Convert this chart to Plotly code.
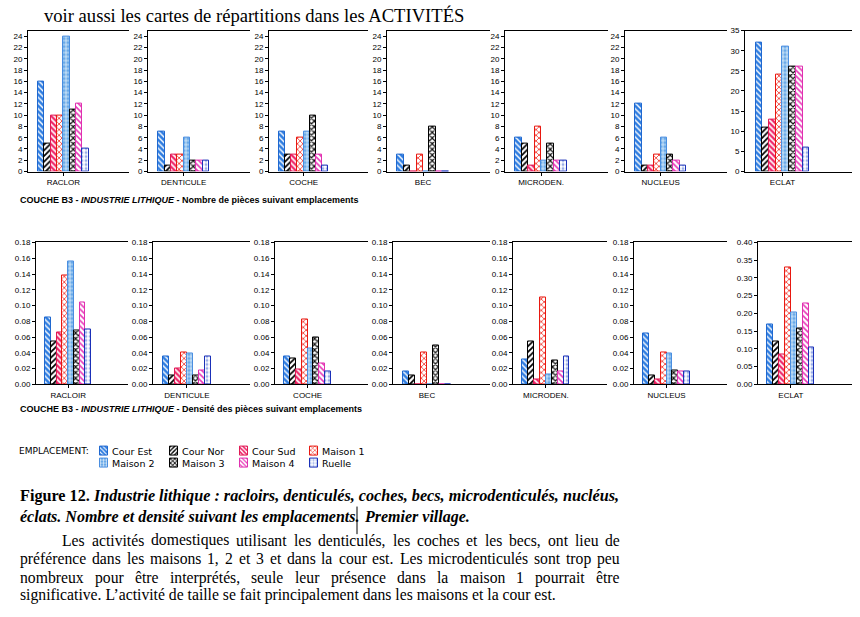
import plotly.graph_objects as go

# ---------------- data ----------------
categories_top = ["RACLOR", "DENTICULE", "COCHE", "BEC", "MICRODEN.", "NUCLEUS", "ECLAT"]
categories_bottom = ["RACLOIR", "DENTICULE", "COCHE", "BEC", "MICRODEN.", "NUCLEUS", "ECLAT"]
locations = ["Cour Est", "Cour Nor", "Cour Sud", "Maison 1", "Maison 2", "Maison 3", "Maison 4", "Ruelle"]

# number of pieces (top row), per location, in category order
count_cour_est = [16, 7, 7, 3, 6, 12, 32]
count_cour_nor = [5, 1, 3, 1, 5, 1, 11]
count_cour_sud = [10, 3, 3, 0, 1, 1, 13]
count_maison_1 = [10, 3, 6, 3, 8, 3, 24]
count_maison_2 = [24, 6, 7, 0, 2, 6, 31]
count_maison_3 = [11, 2, 10, 8, 5, 3, 26]
count_maison_4 = [12, 2, 3, 0, 2, 2, 26]
count_ruelle = [4, 2, 1, 0, 2, 1, 6]

# density of pieces (bottom row)
dens_cour_est = [0.085, 0.036, 0.036, 0.016, 0.032, 0.064, 0.170]
dens_cour_nor = [0.055, 0.011, 0.033, 0.011, 0.055, 0.011, 0.121]
dens_cour_sud = [0.066, 0.020, 0.019, 0.0, 0.006, 0.006, 0.085]
dens_maison_1 = [0.138, 0.041, 0.082, 0.041, 0.110, 0.041, 0.330]
dens_maison_2 = [0.156, 0.039, 0.045, 0.0, 0.013, 0.039, 0.202]
dens_maison_3 = [0.068, 0.011, 0.060, 0.049, 0.030, 0.018, 0.157]
dens_maison_4 = [0.104, 0.018, 0.026, 0.0, 0.017, 0.017, 0.227]
dens_ruelle = [0.070, 0.035, 0.017, 0.0, 0.035, 0.017, 0.103]

top_ticks = [0, 2, 4, 6, 8, 10, 12, 14, 16, 18, 20, 22, 24]
top_ticks_eclat = [0, 5, 10, 15, 20, 25, 30, 35]
bot_ticks = [0, 0.02, 0.04, 0.06, 0.08, 0.10, 0.12, 0.14, 0.16, 0.18]
bot_ticks_eclat = [0, 0.05, 0.10, 0.15, 0.20, 0.25, 0.30, 0.35, 0.40]

counts = [count_cour_est, count_cour_nor, count_cour_sud, count_maison_1,
          count_maison_2, count_maison_3, count_maison_4, count_ruelle]
densities = [dens_cour_est, dens_cour_nor, dens_cour_sud, dens_maison_1,
             dens_maison_2, dens_maison_3, dens_maison_4, dens_ruelle]

# ---------------- styles ----------------
styles = [
    dict(bg="#2f7de0", fg="#ffffff", shape="\\", line="#1f68d0", sol=0.35),   # Cour Est
    dict(bg="#ffffff", fg="#000000", shape="/", line="#000000", sol=0.45),    # Cour Nor
    dict(bg="#ffffff", fg="#ee2266", shape="\\", line="#e01a55", sol=0.55),   # Cour Sud
    dict(bg="#ffffff", fg="#f02a20", shape="x", line="#e81810", sol=0.35),    # Maison 1
    dict(bg="#6aaae8", fg="#ffffff", shape="+", line="#4a8ee0", sol=0.3),     # Maison 2
    dict(bg="#ffffff", fg="#111111", shape="x", line="#000000", sol=0.5),     # Maison 3
    dict(bg="#ffffff", fg="#e838b8", shape="\\", line="#e030b0", sol=0.4),    # Maison 4
    dict(bg="#ffffff", fg="#9aaee8", shape=".", line="#1a30b8", sol=0.4),     # Ruelle
]

W, H = 860, 617


def fx(p):
    return p / W


def fy(p):
    return 1 - p / H


top_left = [28, 148, 269, 387, 505, 625, 745]
top_right = [129, 250, 368, 490, 608, 727, 852]
top_y = (27, 170)
bot_left = [36, 153, 275, 393, 513, 634, 758]
bot_right = [128, 250, 368, 490, 607, 727, 852]
bot_y = (242, 386)

tick_font = dict(family="Liberation Sans", size=8, color="black")

fig = go.Figure()
layout = {}


def marker_for(s, size):
    return dict(color=s["bg"], line=dict(color=s["line"], width=1),
                pattern=dict(shape=s["shape"], fgcolor=s["fg"], bgcolor=s["bg"],
                             size=size, solidity=s["sol"], fillmode="replace"))


def add_panel(n, left, right, ytop, ybot, label, values_by_loc, cat_idx, yrange, yticks, fmt):
    xa = "x" if n == 1 else f"x{n}"
    ya = "y" if n == 1 else f"y{n}"
    for k, loc in enumerate(locations):
        fig.add_trace(go.Bar(
            x=[0], y=[values_by_loc[k][cat_idx]], name=loc, xaxis=xa, yaxis=ya,
            showlegend=False, marker=marker_for(styles[k], 4),
        ))
    key = "" if n == 1 else str(n)
    layout["xaxis" + key] = dict(
        domain=[fx(left), fx(right)], anchor=ya, range=[-0.7, 1.3],
        tickvals=[0], ticktext=[label], ticks="outside", ticklen=3, tickcolor="black",
        showline=True, mirror=True, linecolor="black", linewidth=1,
        showgrid=False, zeroline=False, tickfont=tick_font, fixedrange=True)
    layout["yaxis" + key] = dict(
        domain=[fy(ybot), fy(ytop)], anchor=xa, range=yrange,
        tickvals=yticks, tickformat=fmt, ticks="outside", ticklen=3, tickcolor="black",
        showline=True, linecolor="black", linewidth=1,
        showgrid=False, zeroline=False, tickfont=tick_font, fixedrange=True)


for i in range(7):
    eclat = (i == 6)
    add_panel(i + 1, top_left[i], top_right[i], top_y[0], top_y[1],
              categories_top[i], counts, i,
              [0, 35] if eclat else [0, 25],
              top_ticks_eclat if eclat else top_ticks, "d")
for i in range(7):
    eclat = (i == 6)
    add_panel(i + 8, bot_left[i], bot_right[i], bot_y[0], bot_y[1],
              categories_bottom[i], densities, i,
              [0, 0.40] if eclat else [0, 0.18],
              bot_ticks_eclat if eclat else bot_ticks, ".2f")

# ---------------- legend (swatches on a hidden pixel-scaled axis) ----------------
leg_cols = [100, 170, 240, 310]
leg_rows = [454, 466]
leg_box = (90, 440, 400, 480)  # left, top, right, bottom in px
for k, loc in enumerate(locations):
    col, row = k % 4, k // 4
    fig.add_trace(go.Bar(
        x=[leg_cols[col]], y=[9], base=[leg_box[3] - leg_rows[row] - 4.5], width=[8], offset=0,
        xaxis="x15", yaxis="y15", showlegend=False, hoverinfo="skip",
        marker=marker_for(styles[k], 3),
    ))
layout["xaxis15"] = dict(domain=[fx(leg_box[0]), fx(leg_box[2])], range=[leg_box[0], leg_box[2]],
                         visible=False, anchor="y15", fixedrange=True)
layout["yaxis15"] = dict(domain=[fy(leg_box[3]), fy(leg_box[1])], range=[0, leg_box[3] - leg_box[1]],
                         visible=False, anchor="x15", fixedrange=True)

annotations = []


def txt(x, y, text, size, family="Liberation Sans", xanchor="left"):
    annotations.append(dict(x=fx(x), y=fy(y), xref="paper", yref="paper", text=text,
                            showarrow=False, xanchor=xanchor, yanchor="middle",
                            font=dict(family=family, size=size, color="black")))


# Times / Liberation Serif advance widths (per 1000 em) for justification
TIMES_W = {
    " ": 250, "a": 444, "b": 500, "c": 444, "d": 500, "e": 444, "f": 333, "g": 500, "h": 500,
    "i": 278, "j": 278, "k": 500, "l": 278, "m": 778, "n": 500, "o": 500, "p": 500, "q": 500,
    "r": 333, "s": 389, "t": 278, "u": 500, "v": 500, "w": 722, "x": 500, "y": 500, "z": 444,
    "é": 444, "è": 444, "ê": 444, "à": 444, "ù": 500, "î": 278, "L": 611,
    ",": 250, ".": 250, "1": 500, "2": 500, "3": 500, "’": 333,
}


def word_width(w, size):
    return sum(TIMES_W.get(c, 500) for c in w) * size / 1000.0


def justified(x0, x1, y, line, size, family):
    words = line.split(" ")
    widths = [word_width(w, size) for w in words]
    gap = (x1 - x0 - sum(widths)) / (len(words) - 1)
    x = x0
    for w, wd in zip(words, widths):
        txt(x, y, w, size, family)
        x += wd + gap


txt(42, 12, "voir aussi les cartes de répartitions dans les ACTIVITÉS", 18.6, "Liberation Serif")
txt(18, 199, "<b>COUCHE B3 - <i>INDUSTRIE LITHIQUE</i> - Nombre de pièces suivant emplacements</b>", 9)
txt(18, 411, "<b>COUCHE B3 - <i>INDUSTRIE LITHIQUE</i> - Densité des pièces suivant emplacements</b>", 9)
txt(17, 454, "EMPLACEMENT:", 9, "DejaVu Sans")
for k, loc in enumerate(locations):
    col, row = k % 4, k // 4
    txt(leg_cols[col] + 10, leg_rows[row], loc, 9.5, "DejaVu Sans")

serif = "Liberation Serif"
txt(18, 499, "<b>Figure 12. <i>Industrie lithique : racloirs, denticulés, coches, becs, microdenticulés, nucléus,</i></b>", 16.2, serif)
txt(18, 521, "<b><i>éclats. Nombre et densité suivant les emplacements.</i></b>", 16, serif)
txt(362, 521, "<b><i>Premier village.</i></b>", 16, serif)
justified(60, 618, 544, "Les activités domestiques utilisant les denticulés, les coches et les becs, ont lieu de", 15.7, serif)
justified(18, 618, 563, "préférence dans les maisons 1, 2 et 3 et dans la cour est. Les microdenticulés sont trop peu", 15.7, serif)
justified(18, 618, 582, "nombreux pour être interprétés, seule leur présence dans la maison 1 pourrait être", 15.7, serif)
txt(18, 600, "significative. L’activité de taille se fait principalement dans les maisons et la cour est.", 15.7, serif)

shapes = [dict(type="line", xref="paper", yref="paper", x0=fx(357), x1=fx(357),
               y0=fy(510), y1=fy(538), line=dict(color="black", width=1))]

fig.update_layout(**layout)
fig.update_layout(
    width=W, height=H, margin=dict(l=0, r=0, t=0, b=0),
    paper_bgcolor="white", plot_bgcolor="rgba(0,0,0,0)",
    barmode="group", bargap=0, bargroupgap=0,
    showlegend=False, annotations=annotations, shapes=shapes,
)
fig.write_html("out.html", config={"displayModeBar": False},
               post_script="document.body.style.margin='0';document.body.style.overflow='hidden';")
